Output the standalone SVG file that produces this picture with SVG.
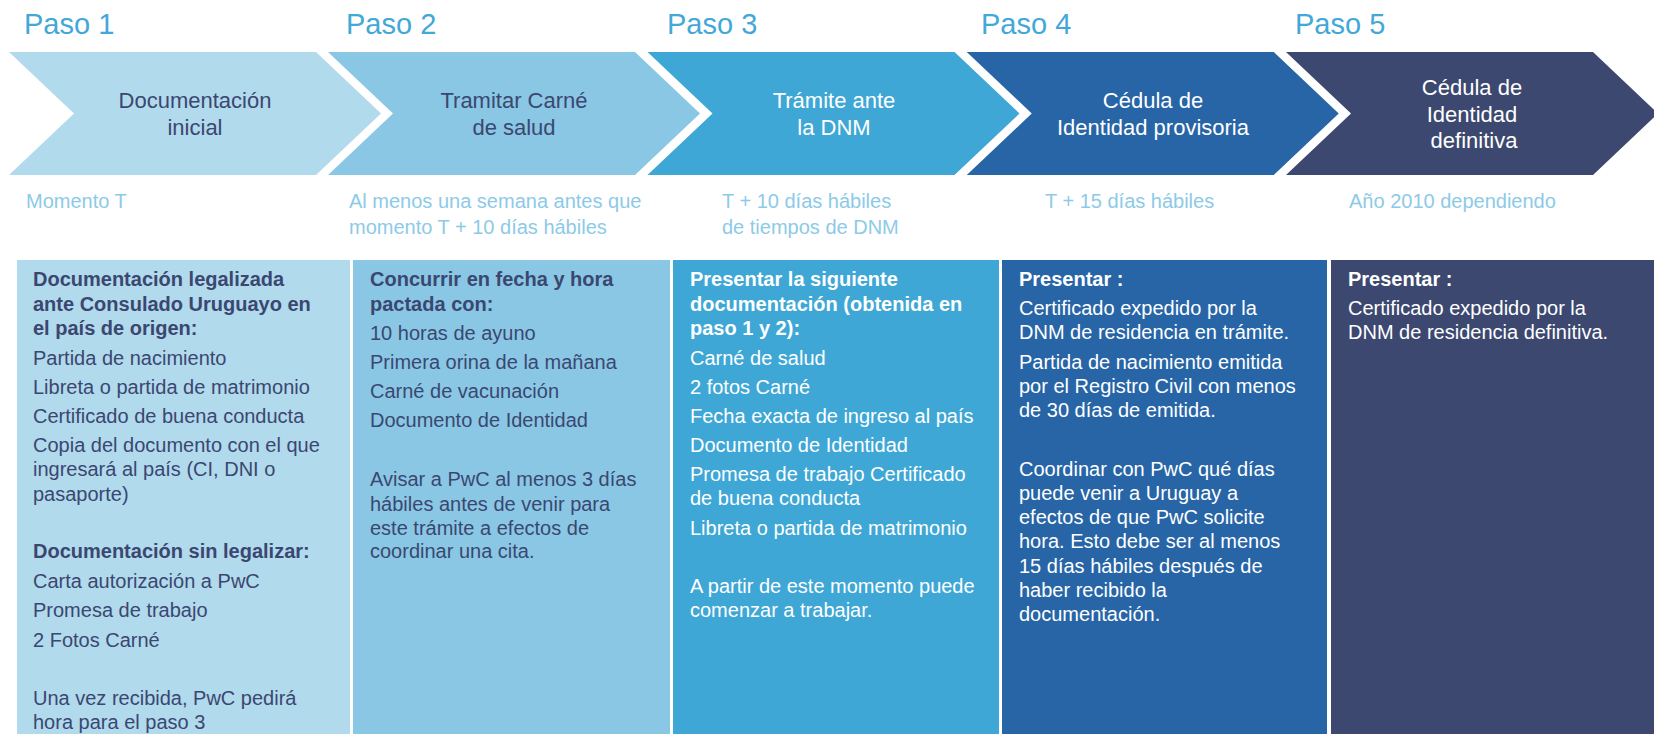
<svg xmlns="http://www.w3.org/2000/svg" width="1654" height="734" viewBox="0 0 1654 734">
<style>
text{font-family:"Liberation Sans",Arial,Helvetica,sans-serif}
.paso{font-size:29px;fill:#42A8D8}
.chev{font-size:22px;text-anchor:middle}
.sub{font-size:20px;fill:#8DCAE8}
.body{font-size:20px}
.b{font-weight:bold}
.dark{fill:#3B4771}
.light{fill:#FFFFFF}
.c1{fill:#B1DAEC}.c2{fill:#89C7E4}.c3{fill:#3EA7D6}.c4{fill:#2765A7}.c5{fill:#3C4870}
</style>
<rect width="1654" height="734" fill="#FFFFFF"/>
<g id="connectors"/>
<g id="step1">
<text class="paso" x="24" y="34">Paso 1</text>
<path class="c1" d="M9,52H316L381,113.5L316,175H9L74,113.5Z"/>
<text class="chev dark" x="195" y="108">Documentación<tspan x="195" y="135">inicial</tspan></text>
<text class="sub" x="26" y="208">Momento T</text>
<rect class="c1" x="17" y="260" width="333" height="474"/>
<text class="body dark" x="33">
<tspan class="b" x="33" y="286">Documentación legalizada</tspan>
<tspan class="b" x="33" y="311">ante Consulado Uruguayo en</tspan>
<tspan class="b" x="33" y="335">el país de origen:</tspan>
<tspan x="33" y="365">Partida de nacimiento</tspan>
<tspan x="33" y="394">Libreta o partida de matrimonio</tspan>
<tspan x="33" y="423">Certificado de buena conducta</tspan>
<tspan x="33" y="452">Copia del documento con el que</tspan>
<tspan x="33" y="476">ingresará al país (CI, DNI o</tspan>
<tspan x="33" y="501">pasaporte)</tspan>
<tspan class="b" x="33" y="558">Documentación sin legalizar:</tspan>
<tspan x="33" y="588">Carta autorización a PwC</tspan>
<tspan x="33" y="617">Promesa de trabajo</tspan>
<tspan x="33" y="647">2 Fotos Carné</tspan>
<tspan x="33" y="705">Una vez recibida, PwC pedirá</tspan>
<tspan x="33" y="729">hora para el paso 3</tspan>
</text>
</g>
<g id="step2">
<text class="paso" x="346" y="34">Paso 2</text>
<path class="c2" d="M328,52H635L700,113.5L635,175H328L393,113.5Z"/>
<text class="chev dark" x="514" y="108">Tramitar Carné<tspan x="514" y="135">de salud</tspan></text>
<text class="sub" x="349" y="208">Al menos una semana antes que<tspan x="349" y="234">momento T + 10 días hábiles</tspan></text>
<rect class="c2" x="353" y="260" width="317" height="474"/>
<text class="body dark">
<tspan class="b" x="370" y="286">Concurrir en fecha y hora</tspan>
<tspan class="b" x="370" y="311">pactada con:</tspan>
<tspan x="370" y="340">10 horas de ayuno</tspan>
<tspan x="370" y="369">Primera orina de la mañana</tspan>
<tspan x="370" y="398">Carné de vacunación</tspan>
<tspan x="370" y="427">Documento de Identidad</tspan>
<tspan x="370" y="486">Avisar a PwC al menos 3 días</tspan>
<tspan x="370" y="511">hábiles antes de venir para</tspan>
<tspan x="370" y="535">este trámite a efectos de</tspan>
<tspan x="370" y="558">coordinar una cita.</tspan>
</text>
</g>
<g id="step3">
<text class="paso" x="667" y="34">Paso 3</text>
<path class="c3" d="M647.5,52H954.5L1019.5,113.5L954.5,175H647.5L712.5,113.5Z"/>
<text class="chev light" x="834" y="108">Trámite ante<tspan x="834" y="135">la DNM</tspan></text>
<text class="sub" x="722" y="208">T + 10 días hábiles<tspan x="722" y="234">de tiempos de DNM</tspan></text>
<rect class="c3" x="673" y="260" width="326" height="474"/>
<text class="body light">
<tspan class="b" x="690" y="286">Presentar la siguiente</tspan>
<tspan class="b" x="690" y="311">documentación (obtenida en</tspan>
<tspan class="b" x="690" y="335">paso 1 y 2):</tspan>
<tspan x="690" y="365">Carné de salud</tspan>
<tspan x="690" y="394">2 fotos Carné</tspan>
<tspan x="690" y="423">Fecha exacta de ingreso al país</tspan>
<tspan x="690" y="452">Documento de Identidad</tspan>
<tspan x="690" y="481">Promesa de trabajo Certificado</tspan>
<tspan x="690" y="505">de buena conducta</tspan>
<tspan x="690" y="535">Libreta o partida de matrimonio</tspan>
<tspan x="690" y="593">A partir de este momento puede</tspan>
<tspan x="690" y="617">comenzar a trabajar.</tspan>
</text>
</g>
<g id="step4">
<text class="paso" x="981" y="34">Paso 4</text>
<path class="c4" d="M966.75,52H1273.75L1338.75,113.5L1273.75,175H966.75L1031.75,113.5Z"/>
<text class="chev light" x="1153" y="108">Cédula de<tspan x="1153" y="135">Identidad provisoria</tspan></text>
<text class="sub" x="1045" y="208">T + 15 días hábiles</text>
<rect class="c4" x="1002" y="260" width="325" height="474"/>
<text class="body light">
<tspan class="b" x="1019" y="286">Presentar :</tspan>
<tspan x="1019" y="315">Certificado expedido por la</tspan>
<tspan x="1019" y="339">DNM de residencia en trámite.</tspan>
<tspan x="1019" y="369">Partida de nacimiento emitida</tspan>
<tspan x="1019" y="393">por el Registro Civil con menos</tspan>
<tspan x="1019" y="417">de 30 días de emitida.</tspan>
<tspan x="1019" y="476">Coordinar con PwC qué días</tspan>
<tspan x="1019" y="500">puede venir a Uruguay a</tspan>
<tspan x="1019" y="524">efectos de que PwC solicite</tspan>
<tspan x="1019" y="548">hora. Esto debe ser al menos</tspan>
<tspan x="1019" y="573">15 días hábiles después de</tspan>
<tspan x="1019" y="597">haber recibido la</tspan>
<tspan x="1019" y="621">documentación.</tspan>
</text>
</g>
<g id="step5">
<text class="paso" x="1295" y="34">Paso 5</text>
<path class="c5" d="M1286,52H1593L1658,113.5L1593,175H1286L1351,113.5Z"/>
<text class="chev light" x="1472" y="95">Cédula de<tspan x="1472" y="122">Identidad</tspan><tspan x="1474" y="148">definitiva</tspan></text>
<text class="sub" x="1349" y="208">Año 2010 dependiendo</text>
<rect class="c5" x="1331" y="260" width="323" height="474"/>
<text class="body light">
<tspan class="b" x="1348" y="286">Presentar :</tspan>
<tspan x="1348" y="315">Certificado expedido por la</tspan>
<tspan x="1348" y="339">DNM de residencia definitiva.</tspan>
</text>
</g>
</svg>
